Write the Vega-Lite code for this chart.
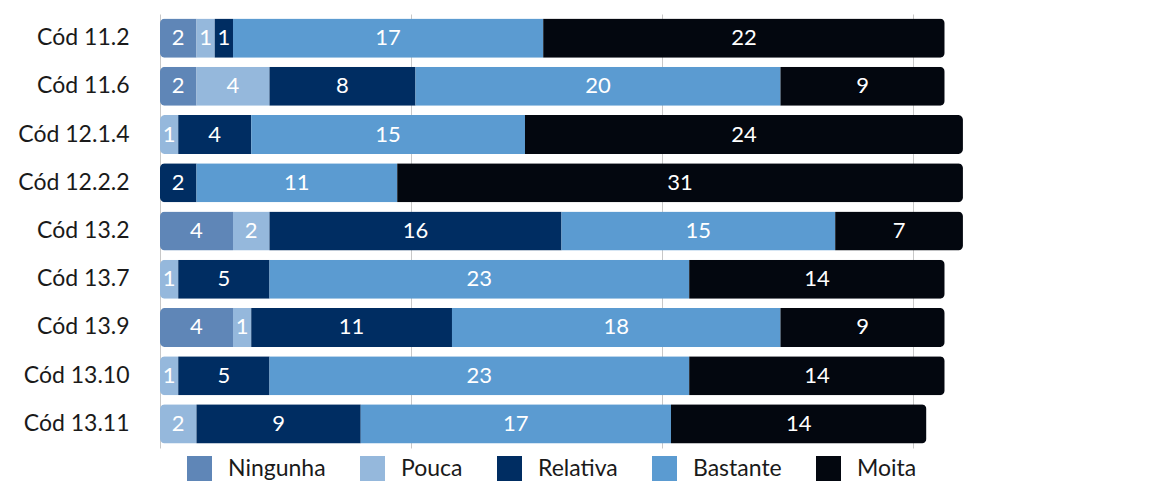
{
  "$schema": "https://vega.github.io/schema/vega-lite/v6.json",
  "autosize": {"type": "none"},
  "padding": {"left": 160, "top": 14, "right": 0, "bottom": 33},
  "width": 990,
  "height": 434,
  "background": "white",
  "config": {
    "font": "Lato",
    "view": {"stroke": null}
  },
  "data": {
    "values": [
      {"cod": "Cód 11.2", "nivel": "Ningunha", "ordem": 1, "valor": 2},
      {"cod": "Cód 11.2", "nivel": "Pouca", "ordem": 2, "valor": 1},
      {"cod": "Cód 11.2", "nivel": "Relativa", "ordem": 3, "valor": 1},
      {"cod": "Cód 11.2", "nivel": "Bastante", "ordem": 4, "valor": 17},
      {"cod": "Cód 11.2", "nivel": "Moita", "ordem": 5, "valor": 22},
      {"cod": "Cód 11.6", "nivel": "Ningunha", "ordem": 1, "valor": 2},
      {"cod": "Cód 11.6", "nivel": "Pouca", "ordem": 2, "valor": 4},
      {"cod": "Cód 11.6", "nivel": "Relativa", "ordem": 3, "valor": 8},
      {"cod": "Cód 11.6", "nivel": "Bastante", "ordem": 4, "valor": 20},
      {"cod": "Cód 11.6", "nivel": "Moita", "ordem": 5, "valor": 9},
      {"cod": "Cód 12.1.4", "nivel": "Pouca", "ordem": 2, "valor": 1},
      {"cod": "Cód 12.1.4", "nivel": "Relativa", "ordem": 3, "valor": 4},
      {"cod": "Cód 12.1.4", "nivel": "Bastante", "ordem": 4, "valor": 15},
      {"cod": "Cód 12.1.4", "nivel": "Moita", "ordem": 5, "valor": 24},
      {"cod": "Cód 12.2.2", "nivel": "Relativa", "ordem": 3, "valor": 2},
      {"cod": "Cód 12.2.2", "nivel": "Bastante", "ordem": 4, "valor": 11},
      {"cod": "Cód 12.2.2", "nivel": "Moita", "ordem": 5, "valor": 31},
      {"cod": "Cód 13.2", "nivel": "Ningunha", "ordem": 1, "valor": 4},
      {"cod": "Cód 13.2", "nivel": "Pouca", "ordem": 2, "valor": 2},
      {"cod": "Cód 13.2", "nivel": "Relativa", "ordem": 3, "valor": 16},
      {"cod": "Cód 13.2", "nivel": "Bastante", "ordem": 4, "valor": 15},
      {"cod": "Cód 13.2", "nivel": "Moita", "ordem": 5, "valor": 7},
      {"cod": "Cód 13.7", "nivel": "Pouca", "ordem": 2, "valor": 1},
      {"cod": "Cód 13.7", "nivel": "Relativa", "ordem": 3, "valor": 5},
      {"cod": "Cód 13.7", "nivel": "Bastante", "ordem": 4, "valor": 23},
      {"cod": "Cód 13.7", "nivel": "Moita", "ordem": 5, "valor": 14},
      {"cod": "Cód 13.9", "nivel": "Ningunha", "ordem": 1, "valor": 4},
      {"cod": "Cód 13.9", "nivel": "Pouca", "ordem": 2, "valor": 1},
      {"cod": "Cód 13.9", "nivel": "Relativa", "ordem": 3, "valor": 11},
      {"cod": "Cód 13.9", "nivel": "Bastante", "ordem": 4, "valor": 18},
      {"cod": "Cód 13.9", "nivel": "Moita", "ordem": 5, "valor": 9},
      {"cod": "Cód 13.10", "nivel": "Pouca", "ordem": 2, "valor": 1},
      {"cod": "Cód 13.10", "nivel": "Relativa", "ordem": 3, "valor": 5},
      {"cod": "Cód 13.10", "nivel": "Bastante", "ordem": 4, "valor": 23},
      {"cod": "Cód 13.10", "nivel": "Moita", "ordem": 5, "valor": 14},
      {"cod": "Cód 13.11", "nivel": "Pouca", "ordem": 2, "valor": 2},
      {"cod": "Cód 13.11", "nivel": "Relativa", "ordem": 3, "valor": 9},
      {"cod": "Cód 13.11", "nivel": "Bastante", "ordem": 4, "valor": 17},
      {"cod": "Cód 13.11", "nivel": "Moita", "ordem": 5, "valor": 14}
    ]
  },
  "encoding": {
    "y": {
      "field": "cod",
      "type": "nominal",
      "sort": null,
      "title": null,
      "scale": {"paddingInner": 0.19, "paddingOuter": 0.095},
      "axis": {"domain": false, "ticks": false, "labelFontSize": 23, "labelColor": "#1a1a1a", "labelPadding": 31, "labelFont": "Lato"}
    },
    "order": {"field": "ordem", "type": "quantitative", "sort": "ascending"}
  },
  "layer": [
    {
      "mark": {"type": "bar", "cornerRadius": 5},
      "encoding": {
        "x": {
          "field": "valor",
          "type": "quantitative",
          "stack": "zero",
          "title": null,
          "scale": {"domain": [0, 54.25], "nice": false, "zero": true},
          "axis": {"labels": false, "ticks": false, "domain": false, "grid": true, "gridColor": "#c8c8c8", "gridWidth": 1, "values": [0, 13.75, 27.5, 41.25]}
        },
        "color": {
          "field": "nivel",
          "type": "nominal",
          "sort": ["Ningunha", "Pouca", "Relativa", "Bastante", "Moita"],
          "scale": {
            "domain": ["Ningunha", "Pouca", "Relativa", "Bastante", "Moita"],
            "range": ["#5f86b7", "#95b8dc", "#002d62", "#5b9bd1", "#03070f"]
          },
          "legend": {
            "title": null,
            "orient": "none",
            "legendX": 27,
            "legendY": 442,
            "direction": "horizontal",
            "columns": 5,
            "symbolType": "square",
            "symbolSize": 625,
            "symbolStrokeWidth": 0,
            "symbolOpacity": 1,
            "labelFontSize": 23,
            "labelColor": "#1a1a1a",
            "labelOffset": 16,
            "columnPadding": 34,
            "labelFont": "Lato"
          }
        }
      }
    },
    {
      "mark": {"type": "text", "color": "white", "fontSize": 22, "baseline": "middle", "align": "center"},
      "encoding": {
        "x": {"field": "valor", "type": "quantitative", "stack": "zero", "bandPosition": 0.5},
        "detail": {"field": "nivel", "type": "nominal"},
        "text": {"field": "valor", "type": "quantitative"}
      }
    }
  ]
}
